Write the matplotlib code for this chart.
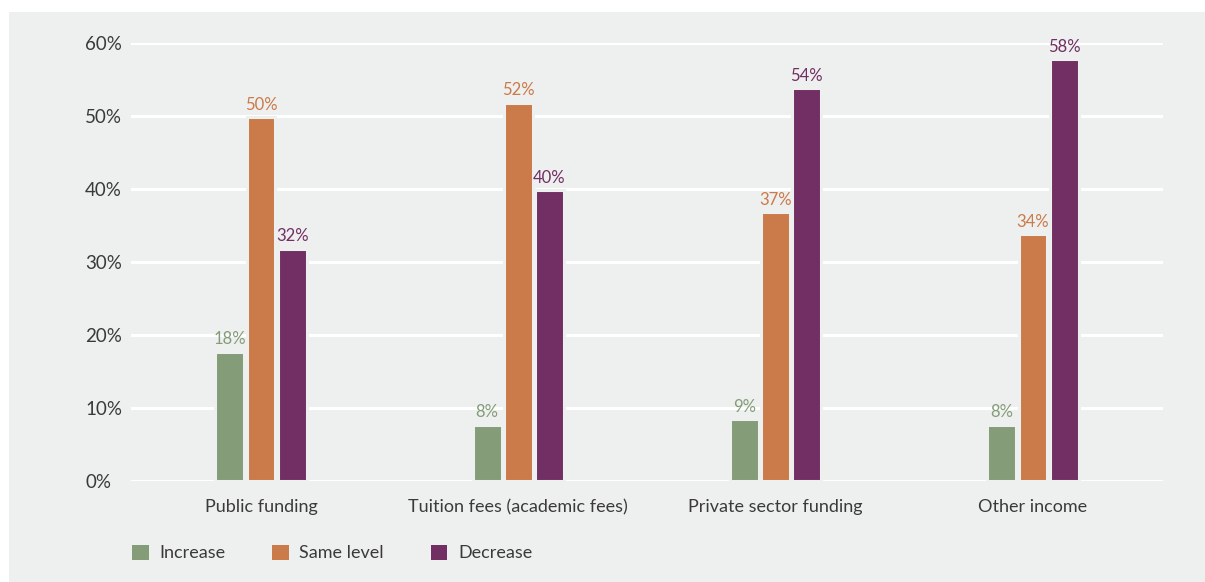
import numpy as np
import matplotlib
matplotlib.use('Agg')
import matplotlib.pyplot as plt
from matplotlib.patches import Rectangle

categories = ['Public funding', 'Tuition fees (academic fees)', 'Private sector funding', 'Other income']
series = ['Increase', 'Same level', 'Decrease']
increase = [17.7, 7.7, 8.5, 7.7]
same_level = [49.8, 51.8, 36.8, 33.8]
decrease = [31.8, 39.8, 53.8, 57.8]
y_ticks = [0, 10, 20, 30, 40, 50, 60]

colors = ['#849c78', '#cb7a4a', '#722f63']
bg = '#eef0ef'
text_col = '#3a3a3a'

plt.rcParams['font.family'] = ['Lato', 'DejaVu Sans']

W, H = 1205, 582
fig = plt.figure(figsize=(W / 100, H / 100), dpi=100)
fig.patch.set_facecolor('white')
# grey panel, with a thin white margin at top and left
fig.add_artist(Rectangle((9 / W, 0), 1 - 9 / W, 1 - 12 / H, transform=fig.transFigure,
                         facecolor=bg, edgecolor='none', zorder=-10))

ax = fig.add_axes([131 / W, 101 / H, (1163 - 131) / W, (481 - 43) / H])
ax.set_facecolor('none')

x = np.arange(len(categories))
width = 0.112
offset = 0.121
for i, (name, vals) in enumerate(zip(series, [increase, same_level, decrease])):
    pos = x + (i - 1) * offset
    ax.bar(pos, vals, width, color=colors[i], edgecolor=bg, linewidth=2.2, zorder=3, label=name)
    for px, v in zip(pos, vals):
        ax.text(px, v + 0.6, f'{int(np.floor(v + 0.5))}%', ha='center', va='bottom',
                fontsize=12, color=colors[i], zorder=4)

ax.set_xlim(-0.505, 3.505)
ax.set_ylim(0, 60)
ax.set_yticks(y_ticks)
ax.set_yticklabels([f'{t}%' for t in y_ticks])
ax.yaxis.grid(True, color='white', linewidth=2.2, zorder=0)
ax.set_axisbelow(True)
for s in ax.spines.values():
    s.set_visible(False)
ax.tick_params(axis='y', length=0, pad=33, labelsize=13.5, labelcolor=text_col)
for lab in ax.get_yticklabels():
    lab.set_horizontalalignment('left')
ax.set_xticks(x)
ax.set_xticklabels(categories)
ax.tick_params(axis='x', length=0, pad=13, labelsize=13, labelcolor=text_col)

handles, labels = ax.get_legend_handles_labels()
leg = fig.legend(handles, labels, loc='center left', bbox_to_anchor=(116 / W, 1 - 553 / H),
                 ncol=3, frameon=False, fontsize=13, handlelength=0.9, handleheight=0.95,
                 handletextpad=0.6, columnspacing=2.6, labelcolor=text_col)
for h in leg.legend_handles:
    h.set_edgecolor('none')

fig.savefig('out.png', dpi=100, facecolor=fig.get_facecolor())
